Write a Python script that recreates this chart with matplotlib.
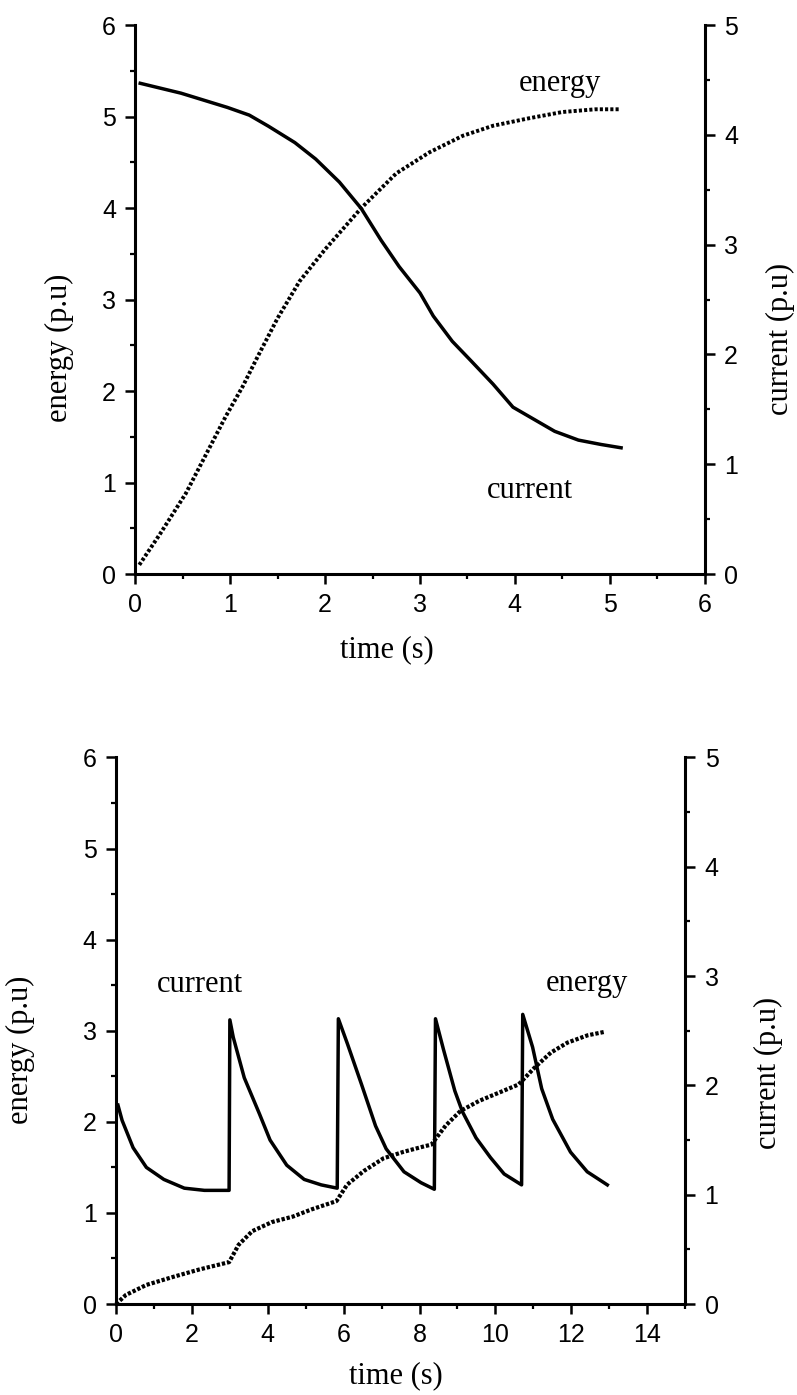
import matplotlib
matplotlib.use("Agg")
import matplotlib.pyplot as plt
from matplotlib.ticker import MultipleLocator

# ---------------- upper panel: continuous charge ----------------
t_energy_1 = [0.04, 0.26, 0.53, 0.78, 0.95, 1.13, 1.29, 1.50, 1.73, 2.00,
              2.38, 2.75, 3.10, 3.45, 3.77, 4.14, 4.50, 4.85, 5.11]
energy_1 = [0.10, 0.44, 0.88, 1.38, 1.72, 2.05, 2.38, 2.80, 3.20, 3.55,
            4.00, 4.38, 4.61, 4.79, 4.90, 4.98, 5.05, 5.08, 5.08]

t_current_1 = [0.05, 0.48, 0.97, 1.20, 1.40, 1.68, 1.90, 2.15, 2.38, 2.59,
               2.78, 3.00, 3.14, 3.34, 3.54, 3.77, 3.98, 4.20, 4.42, 4.67,
               4.91, 5.12]
current_1 = [4.47, 4.38, 4.25, 4.18, 4.08, 3.93, 3.78, 3.57, 3.33, 3.04,
             2.80, 2.56, 2.35, 2.12, 1.94, 1.73, 1.52, 1.41, 1.30, 1.22,
             1.18, 1.15]

# ---------------- lower panel: pulsed charge ----------------
t_energy_2 = [0.00, 0.26, 0.80, 1.52, 2.20, 2.98, 3.23, 3.59, 4.11, 4.66,
              5.16, 5.81, 6.09, 6.53, 7.05, 7.57, 8.11, 8.31, 8.69, 9.08,
              9.57, 10.09, 10.61, 11.02, 11.46, 11.90, 12.43, 12.90]
energy_2 = [0.00, 0.10, 0.21, 0.30, 0.38, 0.46, 0.65, 0.80, 0.90, 0.96,
            1.04, 1.13, 1.31, 1.46, 1.60, 1.67, 1.73, 1.75, 1.96, 2.12,
            2.23, 2.32, 2.41, 2.59, 2.76, 2.87, 2.95, 2.99]

t_current_2 = [0.05, 0.16, 0.45, 0.80, 1.26, 1.80, 2.33, 2.98,
               3.00, 3.09, 3.38, 3.78, 4.06, 4.50, 4.96, 5.41, 5.83,
               5.86, 6.10, 6.47, 6.84, 7.12, 7.59, 8.04, 8.39,
               8.42, 8.63, 8.93, 9.13, 9.49, 9.87, 10.23, 10.69,
               10.72, 10.98, 11.22, 11.51, 11.98, 12.42, 12.95]
current_2 = [1.82, 1.68, 1.43, 1.25, 1.14, 1.06, 1.04, 1.04,
             2.60, 2.44, 2.07, 1.74, 1.50, 1.27, 1.14, 1.09, 1.06,
             2.61, 2.38, 2.01, 1.63, 1.42, 1.21, 1.11, 1.05,
             2.61, 2.33, 1.95, 1.76, 1.52, 1.34, 1.19, 1.09,
             2.65, 2.35, 1.97, 1.69, 1.39, 1.21, 1.09]

SANS = "Liberation Sans"
SERIF = "Liberation Serif"
TICK_FS = 18
TEXT_FS = 22
SPINE_W = 2.2

fig = plt.figure(figsize=(7.97, 13.95), dpi=100)
fig.patch.set_facecolor("white")


def style_axes(ax, ax2, xmax, xmajor, xminor):
    ax.set_xlim(0, xmax)
    ax.set_ylim(0, 6)
    ax2.set_ylim(0, 5)
    for name in ("top", "right"):
        ax.spines[name].set_visible(False)
    for name in ("top", "left", "bottom"):
        ax2.spines[name].set_visible(False)
    for sp in (ax.spines["left"], ax.spines["bottom"], ax2.spines["right"]):
        sp.set_linewidth(SPINE_W)
        sp.set_color("black")
    ax.xaxis.set_major_locator(MultipleLocator(xmajor))
    ax.xaxis.set_minor_locator(MultipleLocator(xminor))
    ax.yaxis.set_major_locator(MultipleLocator(1))
    ax.yaxis.set_minor_locator(MultipleLocator(0.5))
    ax2.yaxis.set_major_locator(MultipleLocator(1))
    ax2.yaxis.set_minor_locator(MultipleLocator(0.5))
    ax.tick_params(axis="both", which="major", direction="out", length=7,
                   width=1.8, pad=7, labelsize=TICK_FS)
    ax.tick_params(axis="both", which="minor", direction="out", length=3.5,
                   width=1.6)
    ax.tick_params(axis="y", which="both", right=False)
    ax.tick_params(axis="x", which="both", top=False)
    ax2.tick_params(axis="y", which="major", direction="out", length=7,
                    width=1.8, pad=7, labelsize=TICK_FS)
    ax2.tick_params(axis="y", which="minor", direction="out", length=3.5,
                    width=1.6)
    for lab in ax.get_xticklabels() + ax.get_yticklabels() + ax2.get_yticklabels():
        lab.set_fontfamily(SANS)
    ax.set_facecolor("none")
    ax2.set_facecolor("none")


def serif_text(ax, x, y, s):
    ax.text(x, y, s, transform=ax.transAxes, ha="center", va="center",
            fontfamily=SERIF, fontsize=TEXT_FS)


# ---- upper panel ----
ax1 = fig.add_axes([0.170, 0.5885, 0.714, 0.3935])
ax1b = ax1.twinx()
style_axes(ax1, ax1b, 6, 1, 0.5)
ax1.set_xticks(range(0, 7))
ax1.set_xticklabels([str(v) for v in range(0, 7)], fontfamily=SANS)

ax1.plot(t_energy_1, energy_1, color="black", lw=2.8,
         ls=(0, (0.8, 0.55)), clip_on=False)
ax1b.plot(t_current_1, current_1, color="black", lw=2.5, clip_on=False)

ax1.set_xlabel("time (s)", fontfamily=SERIF, fontsize=TEXT_FS, va="center")
ax1.xaxis.set_label_coords(0.442, -0.138)
ax1.set_ylabel("energy (p.u)", fontfamily=SERIF, fontsize=TEXT_FS, va="center")
ax1.yaxis.set_label_coords(-0.134, 0.412)
ax1b.set_ylabel("current (p.u)", fontfamily=SERIF, fontsize=TEXT_FS,
                va="center", rotation=90)
ax1b.yaxis.set_label_coords(1.134, 0.428)
serif_text(ax1, 0.746, 0.894, "energy")
serif_text(ax1, 0.693, 0.153, "current")

# ---- lower panel ----
ax2 = fig.add_axes([0.1456, 0.0652, 0.714, 0.3918])
ax2b = ax2.twinx()
style_axes(ax2, ax2b, 15, 2, 1)
ax2.set_xticks(range(0, 15, 2))
ax2.set_xticklabels([str(v) for v in range(0, 15, 2)], fontfamily=SANS)

ax2.plot(t_energy_2, energy_2, color="black", lw=3.0,
         ls=(0, (0.8, 0.45)), clip_on=False)
ax2b.plot(t_current_2, current_2, color="black", lw=2.5, clip_on=False)

ax2.set_xlabel("time (s)", fontfamily=SERIF, fontsize=TEXT_FS, va="center")
ax2.xaxis.set_label_coords(0.492, -0.132)
ax2.set_ylabel("energy (p.u)", fontfamily=SERIF, fontsize=TEXT_FS, va="center")
ax2.yaxis.set_label_coords(-0.168, 0.465)
ax2b.set_ylabel("current (p.u)", fontfamily=SERIF, fontsize=TEXT_FS,
                va="center", rotation=90)
ax2b.yaxis.set_label_coords(1.146, 0.423)
serif_text(ax2, 0.148, 0.584, "current")
serif_text(ax2, 0.828, 0.587, "energy")

fig.savefig("out.png", dpi=100, facecolor="white")
